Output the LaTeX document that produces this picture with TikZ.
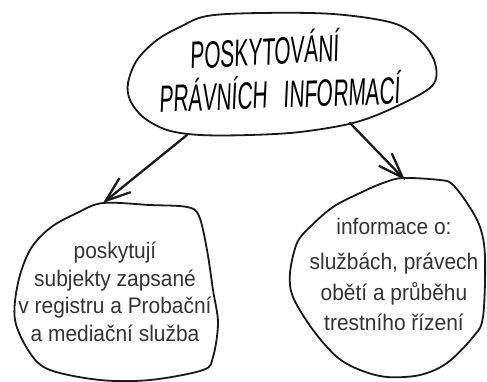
\documentclass[tikz,border=0pt]{standalone}
\usepackage{fontspec}
\setmainfont[FakeStretch=0.93]{Liberation Sans}
\newfontfamily\hand[FakeStretch=0.55,FakeSlant=0.08]{Liberation Sans}
\usetikzlibrary{arrows.meta}
\begin{document}
\begin{tikzpicture}[x=1pt,y=-1pt,
  blob/.style={draw=black!90,line width=1.8pt,line join=round},
  conn/.style={draw=black!90,line width=2.3pt,line cap=round,-{Straight Barb[length=25pt,width=18pt]}},
  body/.style={font=\fontsize{22.5}{27}\selectfont,text=black!80,inner sep=0pt,anchor=base},
  handtxt/.style={font=\hand\fontsize{38}{40}\selectfont,inner sep=0pt,anchor=base}]
\useasboundingbox (0,0) rectangle (487,382);
% top blob
\draw[blob] plot[smooth cycle, tension=0.55] coordinates {
 (207,16) (260,13) (333,14) (393,23) (420,40) (435,63) (432,86) (393,108) (353,123)
 (300,132) (250,135) (200,135) (167,130) (143,117) (130,100) (128,83) (137,60) (157,40) (180,27)};
% left blob
\draw[blob] plot[smooth cycle, tension=0.55] coordinates {
 (103,203) (150,205) (187,207) (199,216) (207,250) (213,290) (218,323) (213,357) (203,370)
 (150,380) (100,380) (50,370) (30,353) (15,320) (18,283) (30,250) (50,228) (77,213)};
% right blob
\draw[blob] plot[smooth cycle, tension=0.55] coordinates {
 (403,178) (440,180) (452,184) (467,203) (480,227) (485,257) (483,317) (473,337) (447,363)
 (420,375) (387,377) (360,370) (337,357) (313,330) (293,297) (290,273) (297,243) (310,227)
 (333,207) (360,193) (383,183)};
% connector ends
\coordinate (tA) at (187,135);
\coordinate (tB) at (350,123);
\coordinate (lT) at (103,203);
\coordinate (rT) at (405,180);
\draw[conn] (tA) -- (lT);
\draw[conn] (tB) -- (rT);
% top text
\node[handtxt,rotate=3] (h1) at (265,65) {POSKYTOVÁNÍ};
\node[handtxt,rotate=2] (h2) at (280,108) {PRÁVNÍCH\hspace{16pt}INFORMACÍ};
% left text
\node[body] (a1) at (115,258) {poskytují};
\node[body] (a2) at (115,286) {subjekty zapsané};
\node[body] (a3) at (115,313) {v registru a Probační};
\node[body] (a4) at (115,341) {a mediační služba};
% right text
\node[body] (b1) at (394,234) {informace o:};
\node[body] (b2) at (394,269) {službách, právech};
\node[body] (b3) at (394,300) {obětí a průběhu};
\node[body] (b4) at (394,330) {trestního řízení};
\end{tikzpicture}
\end{document}
